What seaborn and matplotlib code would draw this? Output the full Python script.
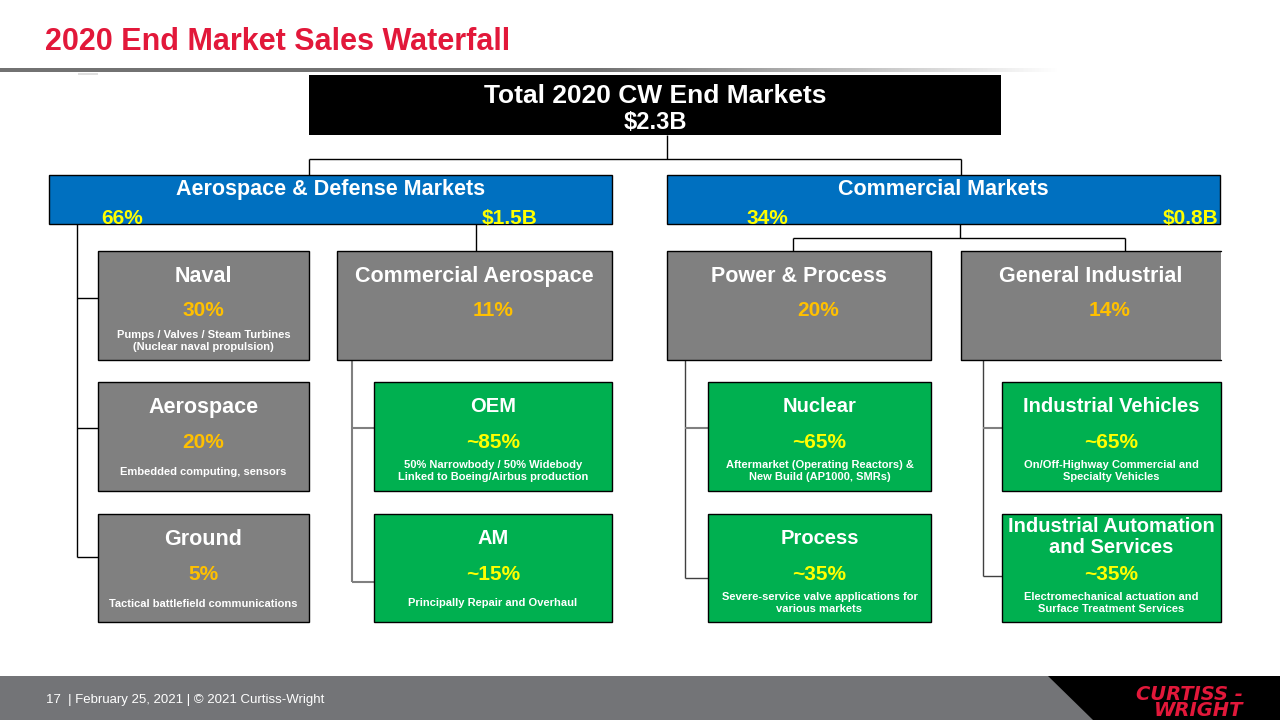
import numpy as np
import matplotlib
matplotlib.use("Agg")
import matplotlib.pyplot as plt
from matplotlib import font_manager
from matplotlib.patches import Rectangle, Polygon
import seaborn as sns

# ---- dados ----
total_label = "Total 2020 CW End Markets"
total_sales = "$2.3B"

mercados = ["Aerospace & Defense Markets", "Commercial Markets"]
mercados_share = [66, 34]
mercados_vendas = ["$1.5B", "$0.8B"]

segmentos = ["Naval", "Aerospace", "Ground",
             "Commercial Aerospace", "Power & Process", "General Industrial"]
segmentos_share = [30, 20, 5, 11, 20, 14]
segmentos_notas = ["Pumps / Valves / Steam Turbines\n(Nuclear naval propulsion)",
                   "Embedded computing, sensors",
                   "Tactical battlefield communications",
                   "", "", ""]

subs = ["OEM", "AM", "Nuclear", "Process",
        "Industrial Vehicles", "Industrial Automation\nand Services"]
subs_share = [85, 15, 65, 35, 65, 35]
subs_notas = ["50% Narrowbody / 50% Widebody\nLinked to Boeing/Airbus production",
              "Principally Repair and Overhaul",
              "Aftermarket (Operating Reactors) &\nNew Build (AP1000, SMRs)",
              "Severe-service valve applications for\nvarious markets",
              "On/Off-Highway Commercial and\nSpecialty Vehicles",
              "Electromechanical actuation and\nSurface Treatment Services"]

rodape = "17  | February 25, 2021 | \u00a9 2021 Curtiss-Wright"

# ---- layout (pixels) ----
C_VERMELHO = "#e2183a"
C_CINZA = "#808080"
C_VERDE = "#00b050"
C_AZUL = "#0070c0"
C_OURO = "#ffc000"
C_AMARELO = "#ffff00"
C_RODAPE = "#737477"

caixa_mercados = [(49, 175, 612, 224), (667, 175, 1220, 224)]
caixa_segmentos = [(98, 251, 309, 360), (98, 382, 309, 491), (98, 514, 309, 622),
                   (337, 251, 612, 360), (667, 251, 931, 360), (961, 251, 1221, 360)]
desloc_share = [0, 0, 0, 19, 19, 19]
caixa_subs = [(374, 382, 612, 491), (374, 514, 612, 622),
              (708, 382, 931, 491), (708, 514, 931, 622),
              (1002, 382, 1221, 491), (1002, 514, 1221, 622)]

sns.set_theme(style="white")
nomes = {f.name for f in font_manager.fontManager.ttflist}
FONTE = "Liberation Sans" if "Liberation Sans" in nomes else "DejaVu Sans"
NARROW = "Liberation Sans Narrow" in nomes
FONTE_NARROW = "Liberation Sans Narrow" if NARROW else FONTE
plt.rcParams['font.family'] = [FONTE, 'DejaVu Sans']

fig = plt.figure(figsize=(12.8, 7.2), dpi=100)
ax = fig.add_axes([0, 0, 1, 1])


def caixa(x0, y0, x1, y1, cor, borda="black", sem_direita=False):
    ax.add_patch(Rectangle((x0, y0), x1 - x0, y1 - y0, facecolor=cor, edgecolor="none", zorder=2))
    if borda:
        if sem_direita:
            ax.plot([x1, x0, x0, x1], [y0, y0, y1, y1], color=borda, lw=1.0, zorder=3)
        else:
            ax.add_patch(Rectangle((x0, y0), x1 - x0, y1 - y0, facecolor="none",
                                   edgecolor=borda, lw=1.0, zorder=3))


def linha(xs, ys, cor="black", lw=1.0):
    ax.plot(xs, ys, color=cor, lw=lw, zorder=1, solid_capstyle="butt")


# titulo e separador
ax.text(45, 50, "2020 End Market Sales Waterfall", fontsize=26.5 if NARROW else 22,
        weight="bold", color=C_VERMELHO, family=[FONTE_NARROW, 'DejaVu Sans'],
        ha="left", va="baseline")
grad = np.zeros((1, 400, 4))
grad[..., :3] = 0.45
alfa = np.clip((1060 - np.linspace(0, 1060, 400)) / 460, 0, 1)
grad[0, :, 3] = alfa
ax.imshow(grad, extent=(0, 1060, 72, 68.5), aspect="auto", zorder=1, interpolation="bilinear")
linha([78, 98], [73.5, 73.5], cor="#d9d9d9", lw=1.2)

# caixa total
caixa(309, 75, 1001, 135, "black", borda=None)
ax.text(655, 93.5, total_label, fontsize=19, weight="bold", color="white", ha="center", va="center_baseline", zorder=4)
ax.text(655, 120, total_sales, fontsize=17, weight="bold", color="white", ha="center", va="center_baseline", zorder=4)

# conectores
linha([667, 667], [135, 159])
linha([309, 961], [159, 159])
linha([309, 309], [159, 175])
linha([961, 961], [159, 175])
linha([77, 77], [224, 557])
for yy in [298, 428, 557]:
    linha([77, 98], [yy, yy])
linha([476, 476], [224, 251])
linha([960, 960], [224, 238])
linha([793, 1125], [238, 238])
linha([793, 793], [238, 251])
linha([1125, 1125], [238, 251])
linha([352, 352], [360, 582], cor=C_CINZA, lw=1.5)
linha([352, 374], [428, 428], cor=C_CINZA, lw=1.5)
linha([352, 374], [582, 582], cor=C_CINZA, lw=1.5)
linha([685, 685], [360, 578], cor="#404040")
linha([685, 708], [428, 428], cor="#808080", lw=1.5)
linha([685, 708], [578, 578], cor="#404040")
linha([983, 983], [360, 576], cor="#404040")
linha([983, 1002], [428, 428], cor="#808080", lw=1.5)
linha([983, 1002], [576, 576], cor="#404040")

# mercados
pos_share = [122, 767]
pos_vendas = [510, 1191]
for (x0, y0, x1, y1), nome, sh, vd, xs, xv in zip(caixa_mercados, mercados, mercados_share,
                                                  mercados_vendas, pos_share, pos_vendas):
    caixa(x0, y0, x1, y1, C_AZUL)
    ax.text((x0 + x1) / 2, y0 + 12, nome, fontsize=15.5, weight="bold", color="white",
            ha="center", va="center_baseline", zorder=4)
    ax.text(xs, y0 + 41, f"{sh}%", fontsize=15, weight="bold", color=C_AMARELO,
            ha="center", va="center_baseline", zorder=4)
    ax.text(xv, y0 + 41, vd, fontsize=15, weight="bold", color=C_AMARELO,
            ha="center", va="center_baseline", zorder=4)

# segmentos
for i, ((x0, y0, x1, y1), nome, sh, nota) in enumerate(zip(caixa_segmentos, segmentos,
                                                          segmentos_share, segmentos_notas)):
    caixa(x0, y0, x1, y1, C_CINZA, sem_direita=(i == 5))
    cx = (x0 + x1) / 2
    ax.text(cx, y0 + 23, nome, fontsize=15.5, weight="bold", color="white",
            ha="center", va="center_baseline", zorder=4)
    ax.text(cx + desloc_share[i], y0 + 58, f"{sh}%", fontsize=15, weight="bold", color=C_OURO,
            ha="center", va="center_baseline", zorder=4)
    if nota:
        ax.text(cx, y0 + 90, nota, fontsize=8, weight="bold", color="white",
                ha="center", va="center", zorder=4)

# sub-segmentos
for (x0, y0, x1, y1), nome, sh, nota in zip(caixa_subs, subs, subs_share, subs_notas):
    caixa(x0, y0, x1, y1, C_VERDE)
    cx = (x0 + x1) / 2
    if "\n" in nome:
        ax.text(cx, y0 + 23, nome, fontsize=14.5, weight="bold", color="white",
                ha="center", va="center", linespacing=1.1, zorder=4)
    else:
        ax.text(cx, y0 + 23, nome, fontsize=14.5, weight="bold", color="white",
                ha="center", va="center_baseline", zorder=4)
    ax.text(cx, y0 + 58, f"~{sh}%", fontsize=15, weight="bold", color=C_AMARELO,
            ha="center", va="center_baseline", zorder=4)
    ax.text(cx, y0 + 89, nota, fontsize=8, weight="bold", color="white",
            ha="center", va="center", zorder=4)

# rodape
ax.add_patch(Rectangle((0, 676), 1280, 44, facecolor=C_RODAPE, edgecolor="none", zorder=2))
ax.add_patch(Polygon([(1048, 676), (1280, 676), (1280, 720), (1093, 720)],
                     closed=True, facecolor="black", edgecolor="none", zorder=3))
ax.text(46, 699, rodape, fontsize=10.5 if NARROW else 9.5, color="white",
        family=[FONTE_NARROW, 'DejaVu Sans'], ha="left", va="center_baseline", zorder=4)
ax.text(1243, 692, "CURTISS -", fontsize=14, weight="bold", style="italic", color=C_VERMELHO,
        family=["DejaVu Sans"], ha="right", va="center_baseline", zorder=4)
ax.text(1243, 709, "WRIGHT", fontsize=14, weight="bold", style="italic", color=C_VERMELHO,
        family=["DejaVu Sans"], ha="right", va="center_baseline", zorder=4)

ax.set_xlim(0, 1280)
ax.set_ylim(720, 0)
ax.axis("off")
fig.savefig("out.png", dpi=100, facecolor="white")
plt.close(fig)
